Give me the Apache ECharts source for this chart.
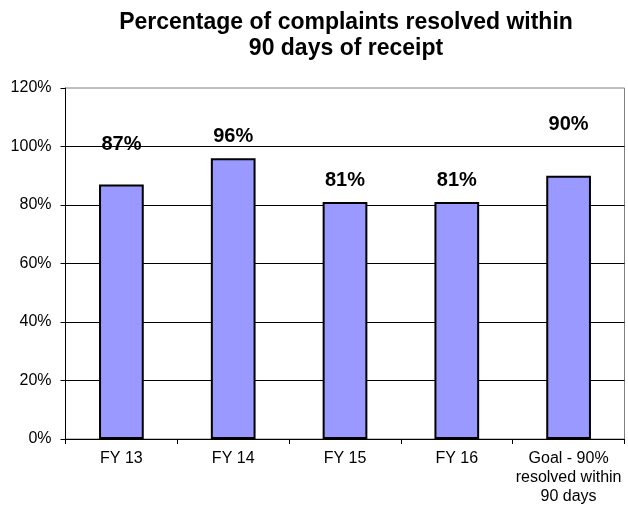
<!DOCTYPE html>
<html>
<head>
<meta charset="utf-8">
<script src="https://cdn.jsdelivr.net/npm/echarts@6/dist/echarts.min.js"></script>
<style>html,body{margin:0;padding:0;background:#fff}#c{width:628px;height:506px}</style>
</head>
<body>
<div id="c"></div>
<script>
const categories = ['FY 13', 'FY 14', 'FY 15', 'FY 16', 'Goal - 90%\nresolved within\n90 days'];
const values = [87, 96, 81, 81, 90];
const yTicks = [0, 20, 40, 60, 80, 100, 120];

// extra vertical lift of each value label (style only)
const labelLift = [-25, -7, -7, -7, -36];

const chart = echarts.init(document.getElementById('c'), null, {renderer: 'canvas'});
chart.setOption({
  animation: false,
  backgroundColor: '#fff',
  title: {
    text: 'Percentage of complaints resolved within\n90 days of receipt',
    left: 341, top: 5, textAlign: 'center',
    textStyle: {fontFamily: 'Liberation Sans, Arial', fontWeight: 'bold', fontSize: 23, lineHeight: 26, color: '#000'}
  },
  grid: {left: 65.5, top: 88, right: 3.5, bottom: 66.5, show: true, borderColor: '#808080', borderWidth: 1, containLabel: false},
  xAxis: {
    type: 'category', data: categories,
    axisLine: {lineStyle: {color: '#000', width: 1}},
    axisTick: {show: true, length: 5, lineStyle: {color: '#000'}},
    axisLabel: {fontFamily: 'Liberation Sans, Arial', fontSize: 16, color: '#000', margin: 10, lineHeight: 19, interval: 0}
  },
  yAxis: {
    type: 'value', min: yTicks[0], max: yTicks[yTicks.length - 1], interval: yTicks[1] - yTicks[0],
    axisLine: {show: true, lineStyle: {color: '#000', width: 1}},
    axisTick: {show: true, length: 5, lineStyle: {color: '#000'}},
    axisLabel: {fontFamily: 'Liberation Sans, Arial', fontSize: 16, color: '#000', margin: 14, formatter: v => v + '%'},
    splitLine: {show: true, showMaxLine: false, lineStyle: {color: '#000', width: 1}}
  },
  series: [{
    type: 'bar', barWidth: '40%',
    data: values.map((v, i) => ({value: v, label: {offset: [0, labelLift[i]]}})),
    itemStyle: {color: '#9999FF', borderColor: '#000', borderWidth: 2},
    label: {show: true, position: 'top', distance: 5, formatter: p => p.value + '%',
      fontFamily: 'Liberation Sans, Arial', fontWeight: 'bold', fontSize: 20, color: '#000'}
  }]
});
</script>
</body>
</html>
